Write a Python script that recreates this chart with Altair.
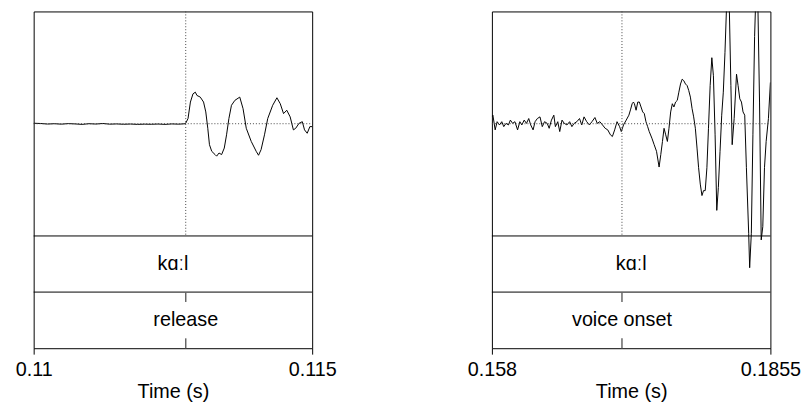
import altair as alt
import pandas as pd

FONT = "Liberation Sans"

# ---- waveform data (time in s, amplitude normalised to the waveform box) ----
left_time = [
    0.110000, 0.110124, 0.110248, 0.110372, 0.110496, 0.110621, 0.110745, 0.110869,
    0.110993, 0.111117, 0.111241, 0.111365, 0.111489, 0.111613, 0.111738, 0.111862,
    0.111986, 0.112110, 0.112234, 0.112358, 0.112482, 0.112606, 0.112725,
    0.112771, 0.112814, 0.112860, 0.112902, 0.112931, 0.112991, 0.113050, 0.113090,
    0.113126, 0.113156, 0.113197, 0.113257, 0.113285, 0.113328, 0.113374, 0.113422,
    0.113463, 0.113505, 0.113551, 0.113612, 0.113700, 0.113759, 0.113817, 0.113906,
    0.113995, 0.114037, 0.114083, 0.114144, 0.114202, 0.114291, 0.114367, 0.114427,
    0.114486, 0.114544, 0.114605, 0.114663, 0.114704, 0.114764, 0.114823, 0.114863,
    0.114911, 0.114959, 0.115000,
]
left_amp = [
    0.004, 0.002, -0.003, 0.000, -0.004, 0.001, -0.002, -0.006,
    0.000, -0.003, 0.002, -0.004, -0.002, -0.005, -0.003, -0.006,
    -0.004, -0.005, -0.003, -0.006, -0.002, -0.004, 0.000,
    0.046, 0.193, 0.266, 0.281, 0.252, 0.237, 0.193, 0.105,
    -0.041, -0.187, -0.246, -0.275, -0.289, -0.261, -0.275, -0.217,
    -0.099, 0.046, 0.164, 0.208, 0.237, 0.134, -0.041, -0.158,
    -0.246, -0.281, -0.231, -0.099, 0.046, 0.164, 0.231, 0.178,
    0.090, 0.120, 0.061, -0.055, -0.041, 0.003, 0.018, -0.055,
    -0.085, -0.026, -0.026,
]

right_time = [
    0.158000, 0.158098, 0.158322, 0.158517, 0.158751, 0.158975, 0.159170, 0.159394,
    0.159629, 0.159824, 0.160048, 0.160272, 0.160535, 0.160760, 0.160955, 0.161189,
    0.161413, 0.161637, 0.161832, 0.162067, 0.162262, 0.162486, 0.162749, 0.162973,
    0.163198, 0.163461, 0.163656, 0.163880, 0.164114, 0.164270, 0.164504, 0.164699,
    0.164924, 0.165148, 0.165411, 0.165675, 0.165899, 0.166123, 0.166387, 0.166650,
    0.166874, 0.167098, 0.167362, 0.167625, 0.167878, 0.168171, 0.168405, 0.168659,
    0.168922, 0.169185, 0.169439, 0.169702, 0.169897, 0.170122, 0.170356, 0.170609,
    0.170775, 0.170999, 0.171262, 0.171526, 0.171682, 0.171848, 0.171974, 0.172072,
    0.172238, 0.172404, 0.172559, 0.172725, 0.172891, 0.173047, 0.173213, 0.173379,
    0.173535, 0.173798, 0.174022, 0.174256, 0.174510, 0.174676, 0.174841, 0.174997,
    0.175163, 0.175329, 0.175485, 0.175651, 0.175816, 0.175972, 0.176138, 0.176304,
    0.176460, 0.176626, 0.176792, 0.176948, 0.177114, 0.177279, 0.177435, 0.177601,
    0.177767, 0.177923, 0.178089, 0.178255, 0.178411, 0.178576, 0.178742, 0.178898,
    0.179064, 0.179230, 0.179386, 0.179551, 0.179717, 0.179873, 0.180039, 0.180205,
    0.180361, 0.180527, 0.180693, 0.180849, 0.181014, 0.181180, 0.181307, 0.181434,
    0.181599, 0.181726, 0.181921, 0.182155, 0.182311, 0.182477, 0.182643, 0.182799,
    0.182965, 0.183130, 0.183355, 0.183452, 0.183618, 0.183774, 0.183940, 0.184037,
    0.184154, 0.184262, 0.184427, 0.184593, 0.184749, 0.184915, 0.185081, 0.185305,
    0.185500,
]
right_amp = [
    0.061, 0.076, -0.055, 0.018, -0.011, 0.018, -0.026, 0.003,
    -0.011, 0.032, 0.003, 0.018, -0.055, 0.018, -0.011, 0.032,
    0.003, 0.046, -0.011, -0.055, 0.018, 0.046, 0.061, -0.026,
    0.018, 0.003, -0.041, 0.032, 0.076, -0.026, 0.018, -0.070,
    0.032, 0.003, -0.011, 0.018, -0.026, 0.003, 0.018, 0.046,
    -0.011, 0.061, 0.018, -0.011, 0.018, 0.055, 0.003, 0.018,
    -0.011, -0.041, -0.055, -0.099, -0.114, -0.055, 0.018, -0.026,
    -0.070, -0.011, 0.032, 0.076, 0.123, 0.178, 0.193, 0.178,
    0.120, 0.193, 0.193, 0.149, 0.105, 0.090, 0.018, -0.026,
    -0.070, -0.129, -0.187, -0.246, -0.386, -0.275, -0.158, -0.041,
    -0.099, -0.158, -0.041, 0.105, 0.178, 0.149, 0.193, 0.208,
    0.281, 0.354, 0.397, 0.383, 0.354, 0.339, 0.296, 0.237,
    0.134, 0.061, -0.041, -0.217, -0.392, -0.538, -0.640, -0.596,
    -0.596, -0.392, -0.041, 0.339, 0.588, 0.427, -0.099, -0.772,
    -0.568, -0.246, 0.076, 0.281, 0.632, 1.070, 1.289, 1.070,
    0.339, -0.187, 0.046, 0.441, 0.339, 0.222, 0.193, 0.105,
    0.076, -0.392, -0.976, -1.283, -0.976, -0.099, 0.778, 1.070,
    1.246, 1.070, 0.193, -1.035, -0.918, -0.392, -0.158, 0.046,
    0.368,
]

panel_domains = [[0.11, 0.115], [0.158, 0.1855]]
panel_ticks = [[0.11, 0.115], [0.158, 0.1855]]
word_labels = ["kɑːl", "kɑːl"]
point_times = [0.11273, 0.170843]
point_labels = ["release", "voice onset"]

Y_DOMAIN = [-2.0, 1.0]
TIER_LINES = [-1.0, -1.5]
TICK_LEN = 0.088  # length of the point-tier marks, in y units


def panel(times, amps, dom, ticks, word, pt, plabel):
    xs = alt.Scale(domain=dom, nice=False, zero=False)
    ys = alt.Scale(domain=Y_DOMAIN, nice=False, zero=False)
    xaxis = alt.Axis(
        values=ticks, format=".4~g", title="Time (s)", grid=False, domain=False,
        tickSize=6, tickColor="black", tickWidth=1, labelFlush=False,
        labelOverlap=False, labelFontSize=20, titleFontSize=20, labelPadding=6,
        titlePadding=2, labelFont=FONT, titleFont=FONT, titleFontWeight="normal",
        labelColor="black", titleColor="black",
    )

    def X(field):
        return alt.X(field, type="quantitative", scale=xs, axis=xaxis)

    def Y(field):
        return alt.Y(field, type="quantitative", scale=ys, axis=None)

    wave_df = pd.DataFrame({"t": times, "a": amps})
    wave = alt.Chart(wave_df).mark_line(color="black", strokeWidth=1, clip=True).encode(
        x=X("t"), y=Y("a"),
    )

    zero_df = pd.DataFrame({"t": [dom[0]], "x1": [dom[1]], "y": [0.0]})
    zero = alt.Chart(zero_df).mark_rule(color="#444", strokeDash=[1, 2], strokeWidth=1).encode(
        x=X("t"), x2="x1:Q", y=Y("y"),
    )

    v_df = pd.DataFrame({"t": [pt], "y0": [1.0], "y1": [-1.0]})
    vline = alt.Chart(v_df).mark_rule(color="#444", strokeDash=[1, 2], strokeWidth=1).encode(
        x=X("t"), y=Y("y0"), y2="y1:Q",
    )

    tier_df = pd.DataFrame({"t": [dom[0]] * 2, "x1": [dom[1]] * 2, "y": TIER_LINES})
    tiers = alt.Chart(tier_df).mark_rule(color="black", strokeWidth=1).encode(
        x=X("t"), x2="x1:Q", y=Y("y"),
    )

    tick_df = pd.DataFrame({
        "t": [pt, pt],
        "y0": [-1.5, -2.0 + TICK_LEN],
        "y1": [-1.5 - TICK_LEN, -2.0],
    })
    pticks = alt.Chart(tick_df).mark_rule(color="#666", strokeWidth=1.5).encode(
        x=X("t"), y=Y("y0"), y2="y1:Q",
    )

    txt_df = pd.DataFrame({
        "t": [(dom[0] + dom[1]) / 2, pt],
        "y": [-1.25, -1.75],
        "label": [word, plabel],
    })
    texts = alt.Chart(txt_df).mark_text(
        font=FONT, fontSize=20, color="black", align="center", baseline="middle"
    ).encode(x=X("t"), y=Y("y"), text="label:N")

    return alt.layer(wave, zero, vline, tiers, pticks, texts).properties(width=282, height=341)


left = panel(left_time, left_amp, panel_domains[0], panel_ticks[0], word_labels[0],
             point_times[0], point_labels[0])
right = panel(right_time, right_amp, panel_domains[1], panel_ticks[1], word_labels[1],
              point_times[1], point_labels[1])

chart = (
    alt.hconcat(left, right, spacing=182, bounds="flush")
    .properties(padding={"left": 6, "top": 0, "right": 0, "bottom": 0})
    .configure_view(stroke="black", strokeWidth=1)
)

chart.save("out.html", embed_options={"renderer": "svg", "actions": False})
